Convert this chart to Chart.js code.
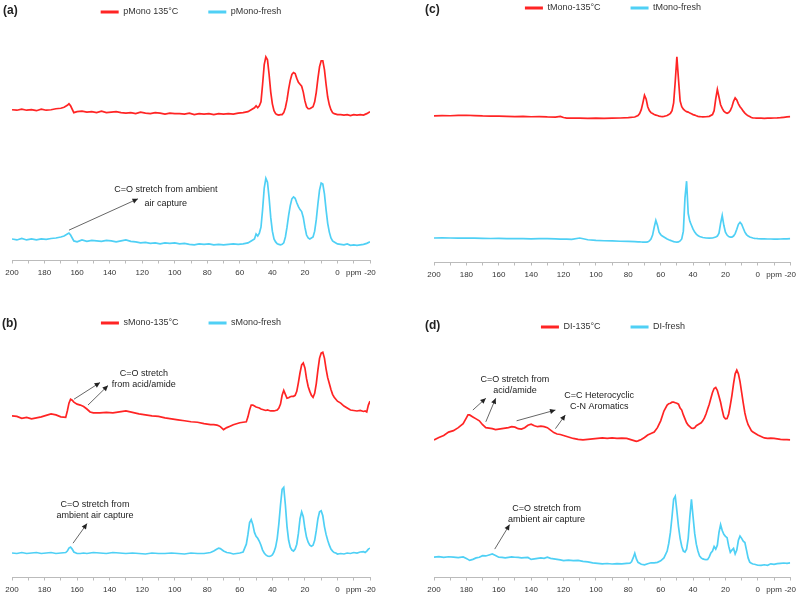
<!DOCTYPE html>
<html>
<head>
<meta charset="utf-8">
<script src="https://cdn.jsdelivr.net/npm/chart.js@4.4.1/dist/chart.umd.min.js"></script>
<style>
  body { margin: 0; background: #fff; }
  #wrap { position: relative; width: 800px; height: 596px; font-family: "Liberation Sans", Arial, sans-serif; }
  canvas { position: absolute; }
  .tag { position: absolute; font-weight: bold; font-size: 12px; line-height: 14px; color: #222; }
</style>
</head>
<body>
<div id="wrap">
  <canvas id="cA" width="400" height="290" style="left:0;top:0"></canvas>
  <canvas id="cB" width="400" height="306" style="left:0;top:290px"></canvas>
  <canvas id="cC" width="400" height="290" style="left:400px;top:0"></canvas>
  <canvas id="cD" width="400" height="306" style="left:400px;top:290px"></canvas>
  <div class="tag" style="left:3px;top:3px">(a)</div>
  <div class="tag" style="left:2px;top:316px">(b)</div>
  <div class="tag" style="left:425px;top:2px">(c)</div>
  <div class="tag" style="left:425px;top:318px">(d)</div>
</div>
<script>
// chemical shift (ppm) and intensity
// heated traces are stored relative to their own baseline and lifted by an offset when drawn

// (a) pMono
const aPpm = [200,197,194,191,188,185,182,179,176,173,170,168,
  166,165,164,162,160,
  157,154,151,148,145,142,139,136,133,130,127,124,121,118,115,112,109,106,103,100,
  97,94,91,88,85,82,79,76,73,70,67,64,61,58,55,
  53,51,50,49,48,47,46,45,44,43,42,41,40,39,38,37,36,35,34,33,
  32,31,30,29,28,27,26,25,24,23,22,21,20,19,18,17,16,15,14,13,
  12,11,10,9,8,7,6,5,4,3,2,0,
  -2,-4,-6,-8,-10,-12,-14,-16,-18,-20];
const aHeated = [20,19.5,20.5,19.5,20,19,20.5,19.5,20,21,21.5,22.5,
  24.5,26,24,17,18,
  18.5,17.5,18,17,18.5,17,17.5,18,17,16.5,17,16,17.5,16.5,16,17,16.5,15.5,16.5,16,
  16,15.5,16.5,15,16,15.5,16,15,16,15.5,16,15.5,16.5,17,18,
  20,22,24,22,24,28,46,66,74,71,56,38,26,19,16,15,14.5,15,15,17,
  22,30,41,50,56,58,57,52,48,46,44,38,29,23,21,21,22,23,28,38,
  52,64,70,70,61,46,33,25,20,17,16,15,
  15,14.5,15,14,15,14.5,15,14.5,16,18];
const aFresh = [22,21,22.5,21,22,21,22,21.5,22.5,23,24,25,
  27,28,26,20,19,
  21,19.5,20.5,20,19.5,20.5,20,19,20,21,19.5,19,18,18.5,17.5,18,17,18,17.5,18,
  17,17.5,16.5,16,17,16.5,17,16,16.5,16,16.5,17,16.5,17,18,
  20,22,27,25,28,34,52,74,84,80,64,44,30,22,19,17,16.5,16,16.5,18,
  24,34,46,56,63,65,63.5,59,55,52,50,44,34,26,23,22,23,24,30,42,
  58,72,79,78,68,52,38,29,23,20,19,17,
  16.5,16,17,15.5,16,15.5,16,16.5,17.5,19];

// (b) sMono
const bPpm = [200,197,194,191,188,185,182,179,176,173,170,167,
  166,165,164,163,162,160,158,156,154,152,150,
  146,142,138,134,130,126,122,118,114,110,106,102,98,94,90,86,82,78,
  76,74,73,72,70,68,66,64,62,60,58,56,55,54,53,52,51,50,49,48,
  47,46,45,44,43,42,41,40,39,38,37,36,35,34,33,32,31,30,29,28,
  27,26,25,24,23,22,21,20,19,18,17,16,15,14,13,12,11,10,9,8,
  7,6,5,4,3,2,1,0,-2,-4,-6,-8,-10,-12,-14,-16,-17,-18,-19,-20];
const bHeated = [25,24.5,22.5,23.5,22,23,24,25.5,27,26,24,23.5,
  30,38,42,41,39,37,36,34.5,32,29,28,
  28,28.5,28,29,30,28.5,27,26,25,24.5,23,22,21,20,19,18.5,17,16,
  16,15.5,15,14,11,13,14.5,16,17,18,18.5,19,24,31,36,36,35,34,33.5,33,
  32,31.5,31,30.5,31,30.5,30,30,30,30.5,31,33,37,46,51,47,43,43.5,44.5,45,
  45,46,50,59,69,77,79,74,63,55,50,46,44,48,58,72,84,89,90,84,
  73,64,58,52,47,44,42,40,38,35,33,31,30.5,30,30.5,29.5,30,29,36,40];
const bFresh = [25,24.5,25.5,24.5,25,25.5,24.5,25,25.5,24.5,25,25.5,
  27,30,31,29,26,24.5,24.5,25,24.5,25,25.5,
  25,24.5,25.5,25,24.5,25,24.5,24,25,24.5,24.5,25,24.5,24,25,24.5,24.5,25.5,
  27,29,30,29.5,27,25.5,25,24,24.5,25,26,34,44,56,59,54,46,42,40,37,
  33,28,25,23,22,21.5,22,23,26,31,40,55,74,90,92,74,52,38,31,28,
  27,29,34,45,60,67,62,50,41,36,33,32,33,38,48,60,67,68,63,52,
  44,38,33,29,27,25.5,25,24,24.5,24,25,24.5,25.5,25,26,26.5,25.5,27,29,30];

// (c) tMono
const cPpm = [200,195,190,185,180,175,170,165,160,155,150,145,140,135,130,125,122,120,118,115,
  110,105,100,95,90,85,80,76,74,73,72,71,70,69,68,67,66,65,64,63,
  62,61,60,59,58,57,56,55,54,53,52,51,50,49,48,47,46,45,44,43,
  42,41,40,39,38,37,36,35,34,32,30,28,27,26,25,24,23,22,21,20,
  19,18,17,16,15,14,13,12,11,10,9,8,7,6,5,4,3,2,1,0,
  -2,-4,-6,-8,-10,-12,-14,-16,-18,-20];
const cHeated = [24.7,25,24.8,25.2,25.3,25,24.6,24.4,24.5,24.2,24,24.1,23.8,23.9,23.6,23.5,24.2,23,22.3,22.4,
  22.3,22.2,22.4,22.1,22.3,22.5,22.8,23.5,25,27,31,38,45.7,42,34,30,28,27,26,25.5,
  25,24.5,24.2,24,24.2,24.6,25,26,27.3,30,38,60,85,62,40,34,31.5,30,29,28.5,
  27.5,26.8,26,25.5,24.8,24.2,24,23.8,23.7,23.8,24.2,26,30,42,51.7,44,36,32.3,29.5,28,
  27.3,28,30,34,39.5,43,41,37,34,32,29.5,27.5,26,24.8,24,23,22.7,22.5,22.4,22.3,
  22.3,22.2,22.4,22.3,22.5,22.6,22.8,23.2,23.6,24];
const cFresh = [25,25.1,25,24.9,24.9,24.8,24.7,24.5,24.7,24.4,24.5,24.3,24.2,24.3,24.4,24.1,23.9,24,23.8,23.6,
  25,23.2,22.5,22.2,22,21.7,21.5,21.3,21,21,20.9,20.8,20.7,20.8,21,22,24,28,36,43,
  38,31,28.5,27,26,25,24,23.2,22.6,22,21.3,21,20.8,21,22,24,32,66,83,50,
  42,38,34,31,29,27.5,26.5,26,25.5,25,24.8,25,25.5,26,27,30,40,48,38,31,
  28,26.5,26,26,27,29.5,34,39,41,39,35,31,28.5,27,26,25.5,25,24.7,24.5,24.3,
  24.2,24.1,24,24,23.9,23.9,24,24.1,24.2,24.4];

// (d) DI
const dPpm = [200,197,194,191,188,185,182,180,179,178,176,174,172,170,168,166,164,162,160,158,
  156,154,152,150,148,146,144,142,140,138,136,134,132,130,128,126,124,122,120,117,
  114,111,108,105,102,99,96,93,90,87,84,81,79,78,77,76,75,74,72,70,
  68,66,64,62,60,58,56,55,54,53,52,51,50,49,48,47,46,45,44,43,
  42,41,40,39,38,37,36,35,34,33,32,31,30,29,28,27,26,25,24,23,
  22,21,20,19,18,17,16,15,14,13,12,11,10,9,8,7,6,5,4,3,
  2,1,0,-2,-4,-6,-8,-10,-12,-14,-16,-18,-20];
const dHeated = [20.5,23,25,28.5,30,33,37,43,46,46,44,42,40,36,33,32.5,32,31,31.5,32,
  32.5,33,34,33.5,32,31.5,33,35.5,36.5,35,34,34.5,34,33,30.5,28,26.5,26,25,23.5,
  22,21,20.5,21,21.5,22,22.5,22,22.5,22,22.3,22,21,20.5,20,19.5,19,19.5,21,23,
  25.5,27,28.5,33,40,50,56,57.5,58,59,59,58.5,58,57,53,51,46,42,38,35.5,
  34,32.5,32.3,33,35,36,37,38,40,43,47,52,57,63,69,73,74,71,65,59,
  51,44,42,42.3,47,56,66,78,88,91.7,88,80,69,58,48,41,36,33,30,28.5,
  27.5,26.5,25.5,24,22.5,22,22.3,22,21.5,21,20.7,20.7,20.5];
const dFresh = [20.7,21.3,20.5,21.2,20.8,20.3,21,19.5,18.5,17.5,18.5,20,20.7,22.3,22,23,24,22.5,20.7,20.5,
  20,20.5,21,20.7,20.5,20,20.3,20.5,18.5,19,19.5,20,19.5,20.7,19.5,19,18.5,18,17.3,17.8,
  17.3,17.5,16.5,16,15,14.5,14,14.3,13.8,14.2,14,14.5,14.7,16,20,24.7,19,15.5,13.5,13,
  14,15,15,15.5,17,20,27,35,46,62,80,83,68,52,40,32,27,26,29,40,
  62,79.7,62,45,34,27,22,20,19,18.5,18.3,18.5,21,25,27,31.7,29,33,46,54,
  48,44,42,40.7,32,25.7,28,29.7,24,28,38,42.3,40,37,35.7,28,20,15.7,14.5,13.8,
  13.5,13,12.5,12.3,13,12.5,14,13.5,14.2,14.5,14.8,14.5,15];

const RED = '#ff2424';
const BLUE = '#4fd0f5';
const FONT = '"Liberation Sans", Arial, sans-serif';

const pts = (ppm, vals, off) => ppm.map((p, i) => ({ x: p, y: vals[i] + off }));

// text and arrows, placed in ppm / intensity units
const notesPlugin = {
  id: 'notes',
  afterDraw(chart, args, opts) {
    const { ctx } = chart;
    const sx = chart.scales.x, sy = chart.scales.y;
    ctx.save();
    (opts.arrows || []).forEach(a => {
      const x1 = sx.getPixelForValue(a[0]), y1 = sy.getPixelForValue(a[1]);
      const x2 = sx.getPixelForValue(a[2]), y2 = sy.getPixelForValue(a[3]);
      ctx.strokeStyle = '#666';
      ctx.lineWidth = 1;
      ctx.beginPath(); ctx.moveTo(x1, y1); ctx.lineTo(x2, y2); ctx.stroke();
      const ang = Math.atan2(y2 - y1, x2 - x1);
      ctx.fillStyle = '#222';
      ctx.beginPath();
      ctx.moveTo(x2, y2);
      ctx.lineTo(x2 - 6 * Math.cos(ang - 0.45), y2 - 6 * Math.sin(ang - 0.45));
      ctx.lineTo(x2 - 6 * Math.cos(ang + 0.45), y2 - 6 * Math.sin(ang + 0.45));
      ctx.closePath(); ctx.fill();
    });
    ctx.font = '9px ' + FONT;
    ctx.fillStyle = '#222';
    ctx.textAlign = 'center';
    ctx.textBaseline = 'middle';
    (opts.labels || []).forEach(t => {
      const px = sx.getPixelForValue(t.x), py = sy.getPixelForValue(t.y);
      t.lines.forEach((s, i) => ctx.fillText(s, px, py + i * t.gap));
    });
    ctx.restore();
  }
};

function panel(id, names, heated, fresh, ppm, off, yMax, pad, notes) {
  new Chart(document.getElementById(id), {
    type: 'line',
    data: {
      datasets: [
        { label: names[0], data: pts(ppm, heated, off), borderColor: RED, backgroundColor: RED },
        { label: names[1], data: pts(ppm, fresh, 0), borderColor: BLUE, backgroundColor: BLUE }
      ]
    },
    options: {
      responsive: false,
      animation: false,
      devicePixelRatio: 1,
      layout: { padding: pad },
      elements: {
        point: { radius: 0 },
        line: { borderWidth: 1.7, tension: 0 }
      },
      scales: {
        x: {
          type: 'linear', reverse: true, min: -20, max: 200,
          grid: { drawOnChartArea: false, tickLength: 3, color: '#bbb' },
          border: { color: '#bbb' },
          ticks: {
            stepSize: 10, autoSkip: false, maxRotation: 0, padding: 4,
            color: '#333', font: { size: 8, family: FONT },
            callback: v => v === -10 ? 'ppm' : (v % 20 === 0 ? String(v) : '')
          }
        },
        y: { display: false, min: 0, max: yMax }
      },
      plugins: {
        legend: {
          labels: {
            boxWidth: 18, boxHeight: 3, padding: 30, color: '#333',
            font: { size: 9, family: FONT },
            generateLabels: c => Chart.defaults.plugins.legend.labels.generateLabels(c)
              .map(l => ({ ...l, lineWidth: 0, fillStyle: l.strokeStyle }))
          }
        },
        tooltip: { enabled: false },
        notes: notes
      }
    },
    plugins: [notesPlugin]
  });
}

panel('cA', ['pMono 135°C', 'pMono-fresh'], aHeated, aFresh, aPpm, 134, 239,
  { top: -22.5, bottom: 8.9, left: 12, right: 30 },
  {
    labels: [{ x: 105.5, y: 73, gap: 14, lines: ['C=O stretch from ambient', 'air capture'] }],
    arrows: [[165, 31, 122.6, 63]]
  });

panel('cB', ['sMono-135°C', 'sMono-fresh'], bHeated, bFresh, bPpm, 140, 245,
  { top: -1.5, bottom: -2.1, left: 12, right: 30 },
  {
    labels: [
      { x: 119, y: 208, gap: 11, lines: ['C=O stretch', 'from acid/amide'] },
      { x: 149, y: 75, gap: 11, lines: ['C=O stretch from', 'ambient air capture'] }
    ],
    arrows: [[161.9, 182, 145.9, 199], [153.3, 176, 141, 196], [162.5, 35, 153.9, 55]]
  });

panel('cC', ['tMono-135°C', 'tMono-fresh'], cHeated, cFresh, cPpm, 125, 245,
  { top: -26.5, bottom: 6.9, left: 34, right: 8 },
  { labels: [], arrows: [] });

panel('cD', ['DI-135°C', 'DI-fresh'], dHeated, dFresh, dPpm, 120, 241,
  { top: 2.5, bottom: -2.1, left: 34, right: 8 },
  {
    labels: [
      { x: 150, y: 202, gap: 11, lines: ['C=O stretch from', 'acid/amide'] },
      { x: 98, y: 186, gap: 11, lines: ['C=C Heterocyclic', 'C-N Aromatics'] },
      { x: 130.5, y: 70, gap: 11, lines: ['C=O stretch from', 'ambient air capture'] }
    ],
    arrows: [[176, 171, 168, 183], [168, 159, 161.9, 183], [149, 160, 125, 171],
             [125, 152, 118.9, 166], [162.5, 29, 153.3, 54]]
  });
</script>
</body>
</html>
